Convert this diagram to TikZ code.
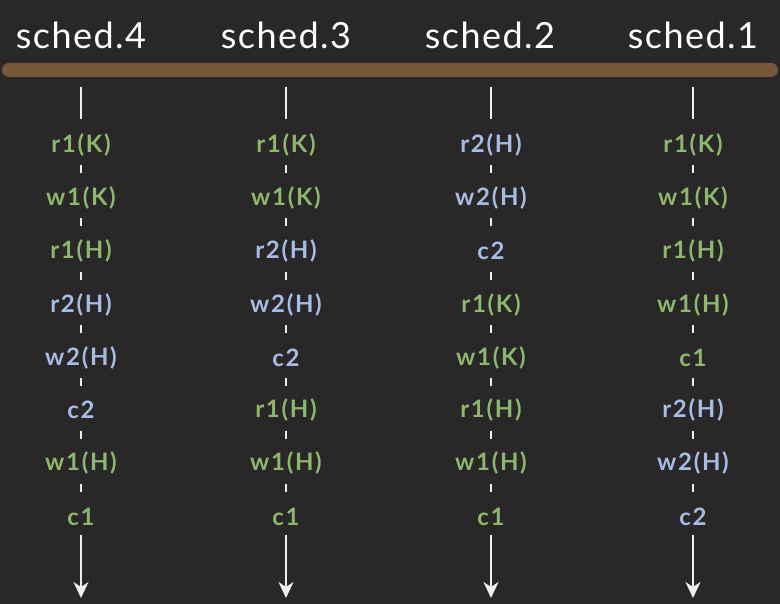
\documentclass[tikz,border=0pt]{standalone}
\usepackage{fontspec}
\setmainfont{Lato}
\newfontfamily\titlefont[LetterSpace=4]{Lato}
\newfontfamily\opfont[LetterSpace=7]{Lato}
\usetikzlibrary{arrows.meta,calc}
\definecolor{bg}{HTML}{292727}
\definecolor{bar}{HTML}{76573A}
\definecolor{tone}{HTML}{8BB86C}
\definecolor{ttwo}{HTML}{A6BCE4}
\definecolor{wline}{HTML}{EEEEEE}
\tikzset{
  title/.style={text=white,font=\titlefont\fontsize{36}{40}\selectfont,inner sep=0pt},
  op/.style={font=\opfont\fontsize{24}{28}\selectfont\bfseries,inner sep=0pt},
  one/.style={op,text=tone},
  two/.style={op,text=ttwo},
  tickline/.style={draw=wline,line width=2.6pt},
  axisline/.style={draw=wline,line width=2.6pt},
  endarrow/.style={draw=wline,line width=2.2pt,-{Stealth[length=16pt,width=15pt,inset=5pt]}},
}
\begin{document}
\begin{tikzpicture}[x=1pt,y=-1pt]
\fill[bg] (0,0) rectangle (780,604);
\useasboundingbox (0,0) rectangle (780,604);
% bar
\coordinate (barL) at (9,70);
\coordinate (barR) at (771,70);
\draw[bar,line width=14pt,line cap=round] (barL) -- (barR);
% titles
\node[title] (t4) at (81,35) {sched.4};
\node[title] (t3) at (286,35) {sched.3};
\node[title] (t2) at (490,35) {sched.2};
\node[title] (t1) at (693,35) {sched.1};
% columns
\newcommand{\mycol}[3]{%
  \foreach \sty/\txt [count=\i] in {#2}{
    \pgfmathsetmacro{\yy}{{145,198,251,305,358,410,463,517}[\i-1]}
    \node[\sty] (#3-\i) at (#1,\yy) {\txt};
  }
  \coordinate (#3-top) at (#1,87);
  \coordinate (#3-topend) at (#1,119);
  \draw[axisline] (#3-top) -- (#3-topend);
  \foreach \i [evaluate=\i as \j using int(\i+1)] in {1,...,7}{
    \draw[tickline] ($(#3-\i)!0.5!(#3-\j)+(0,-6)$) -- ($(#3-\i)!0.5!(#3-\j)+(0,2)$);
  }
  \coordinate (#3-as) at (#1,535);
  \coordinate (#3-ae) at (#1,598);
  \draw[endarrow] (#3-as) -- (#3-ae);
}
\mycol{81}{one/r1(K),one/w1(K),one/r1(H),two/r2(H),two/w2(H),two/c2,one/w1(H),one/c1}{sa}
\mycol{286}{one/r1(K),one/w1(K),two/r2(H),two/w2(H),two/c2,one/r1(H),one/w1(H),one/c1}{sb}
\mycol{491}{two/r2(H),two/w2(H),two/c2,one/r1(K),one/w1(K),one/r1(H),one/w1(H),one/c1}{sc}
\mycol{693}{one/r1(K),one/w1(K),one/r1(H),one/w1(H),one/c1,two/r2(H),two/w2(H),two/c2}{sd}
\end{tikzpicture}
\end{document}
